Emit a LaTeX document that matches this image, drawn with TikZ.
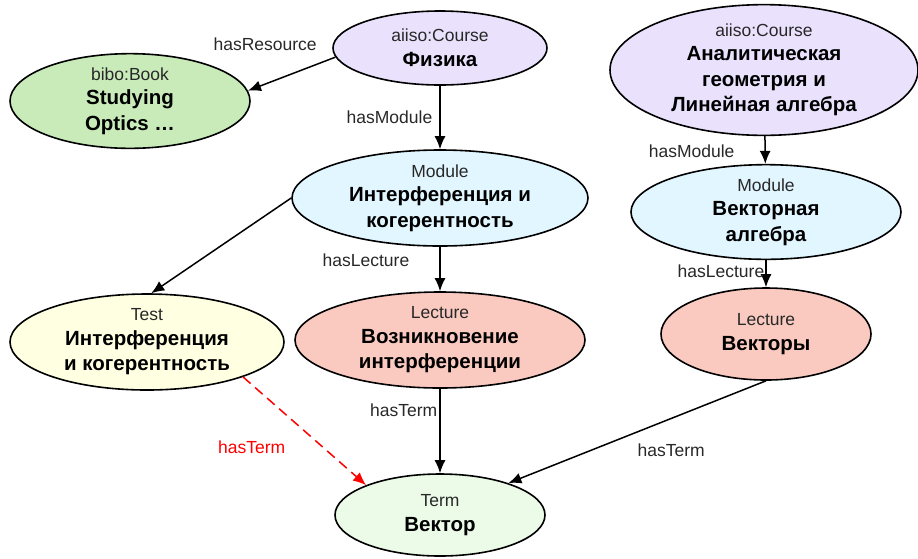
\documentclass[tikz,border=0pt]{standalone}
\usepackage{fontspec}
\setmainfont{Liberation Sans}
\usepackage{xcolor}
\usepackage{tikz}
\usetikzlibrary{shapes.geometric, arrows.meta, positioning}
\definecolor{coursepurple}{RGB}{234, 225, 252}
\definecolor{bookgreen}{RGB}{200, 235, 185}
\definecolor{moduleblue}{RGB}{226, 246, 255}
\definecolor{testyellow}{RGB}{255, 255, 226}
\definecolor{lecturered}{RGB}{250, 202, 192}
\definecolor{termgreen}{RGB}{236, 250, 232}
\definecolor{labelgray}{RGB}{40, 40, 40}
\newcommand{\kind}[1]{{\fontsize{17.5}{20}\selectfont\mdseries\color{labelgray}#1}}

\begin{document}
\begin{tikzpicture}[x=1pt, y=-1pt,
    entity/.style={ellipse, draw=black, line width=1.6pt, inner sep=0pt, align=center,
        font=\fontsize{20.5}{25.5}\selectfont\bfseries},
    rel/.style={-{Latex[length=13pt, width=11pt]}, line width=1.5pt},
    rellabel/.style={font=\fontsize{17.5}{20}\selectfont, text=labelgray, inner sep=2pt}]
        \useasboundingbox (0, 0) rectangle (918, 558);

        % Courses
        \node[entity, fill=coursepurple, minimum width=214pt, minimum height=74pt] (phys) at (440, 48) {\kind{aiiso:Course}\\[-1pt]Физика};
        \node[entity, fill=coursepurple, minimum width=308pt, minimum height=126pt] (geom) at (764, 70) {\kind{aiiso:Course}\\[-1pt]Аналитическая\\геометрия и\\Линейная алгебра};

        % Book
        \node[entity, fill=bookgreen, minimum width=240pt, minimum height=88pt] (book) at (130, 101) {\kind{bibo:Book}\\[-1pt]Studying\\Optics …};

        % Modules
        \node[entity, fill=moduleblue, minimum width=296pt, minimum height=96pt] (interf) at (440, 198) {\kind{Module}\\[-1pt]Интерференция и\\когерентность};
        \node[entity, fill=moduleblue, minimum width=270pt, minimum height=90pt] (vecalg) at (766, 212) {\kind{Module}\\[-1pt]Векторная\\алгебра};

        % Test and lectures
        \node[entity, fill=testyellow, minimum width=274pt, minimum height=96pt] (test) at (147, 342) {\kind{Test}\\[-1pt]Интерференция\\и когерентность};
        \node[entity, fill=lecturered, minimum width=290pt, minimum height=96pt] (origin) at (440, 340) {\kind{Lecture}\\[-1pt]Возникновение\\интерференции};
        \node[entity, fill=lecturered, minimum width=210pt, minimum height=92pt] (vectors) at (766, 334) {\kind{Lecture}\\[-1pt]Векторы};

        % Term
        \node[entity, fill=termgreen, minimum width=210pt, minimum height=82pt] (term) at (440, 515) {\kind{Term}\\[-1pt]Вектор};

        % Relations
        \draw[rel] (phys.185) -- node[rellabel, pos=0, above left, xshift=-16pt, yshift=4pt] {hasResource} (book.5);
        \draw[rel] (phys) -- node[rellabel, left, xshift=-5pt] {hasModule} (interf);
        \draw[rel] (geom) -- node[rellabel, left, pos=0.55, xshift=-28pt] {hasModule} (vecalg);
        \draw[rel] (interf.west) -- (test.85);
        \draw[rel] (interf) -- node[rellabel, left, pos=0.3, xshift=-28pt] {hasLecture} (origin);
        \draw[rel] (vecalg) -- node[rellabel, left, pos=0.4, inner sep=1pt] {hasLecture} (vectors);
        \draw[rel] (origin) -- node[rellabel, left, pos=0.25] {hasTerm} (term);
        \draw[rel] (vectors.south) -- node[rellabel, pos=0.68, right=44pt] {hasTerm} (term.25);
        \draw[rel, red, dash pattern=on 10pt off 6pt] (test.340) -- node[rellabel, text=red, pos=0.65, left=35pt] {hasTerm} (term.158); % not asserted

    \end{tikzpicture}
\end{document}
